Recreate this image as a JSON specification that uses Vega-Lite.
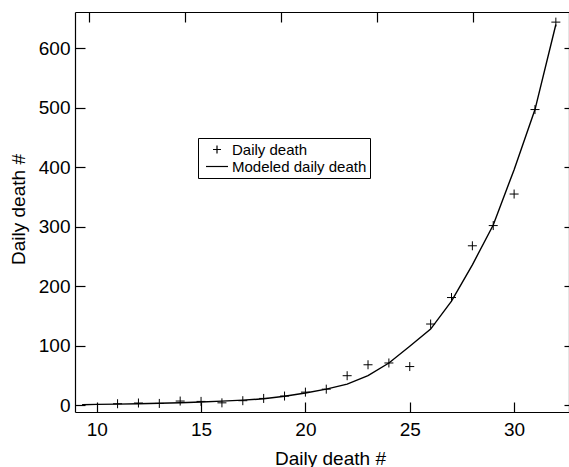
{
  "$schema": "https://vega.github.io/schema/vega-lite/v6.json",
  "autosize": "none",
  "width": 494,
  "height": 400,
  "padding": {"left": 75, "top": 12, "right": 0, "bottom": 55},
  "background": "white",
  "config": {
    "font": "Liberation Sans",
    "view": {"stroke": null},
    "axis": {
      "grid": false,
      "domainColor": "black",
      "domainWidth": 1.2,
      "tickColor": "black",
      "tickWidth": 1.2,
      "labelColor": "black",
      "titleColor": "black",
      "labelFontSize": 19,
      "titleFontSize": 19,
      "titleFontWeight": "normal",
      "labelFont": "Liberation Sans",
      "titleFont": "Liberation Sans"
    },
    "legend": {
      "labelFont": "Liberation Sans",
      "labelFontSize": 15,
      "labelColor": "black"
    }
  },
  "datasets": {
    "obs": [
      {"day": 11, "deaths": 2.5, "series": "Daily death"},
      {"day": 12, "deaths": 3.7, "series": "Daily death"},
      {"day": 13, "deaths": 3, "series": "Daily death"},
      {"day": 14, "deaths": 7, "series": "Daily death"},
      {"day": 15, "deaths": 6.4, "series": "Daily death"},
      {"day": 16, "deaths": 4, "series": "Daily death"},
      {"day": 17, "deaths": 7.6, "series": "Daily death"},
      {"day": 18, "deaths": 11.4, "series": "Daily death"},
      {"day": 19, "deaths": 15.4, "series": "Daily death"},
      {"day": 20, "deaths": 22, "series": "Daily death"},
      {"day": 21, "deaths": 27, "series": "Daily death"},
      {"day": 22, "deaths": 49.6, "series": "Daily death"},
      {"day": 23, "deaths": 68, "series": "Daily death"},
      {"day": 24, "deaths": 71, "series": "Daily death"},
      {"day": 25, "deaths": 65, "series": "Daily death"},
      {"day": 26, "deaths": 136.5, "series": "Daily death"},
      {"day": 27, "deaths": 181, "series": "Daily death"},
      {"day": 28, "deaths": 268, "series": "Daily death"},
      {"day": 29, "deaths": 302, "series": "Daily death"},
      {"day": 30, "deaths": 355, "series": "Daily death"},
      {"day": 31, "deaths": 497, "series": "Daily death"},
      {"day": 32, "deaths": 644, "series": "Daily death"}
    ],
    "model": [
      {"day": 9.3, "deaths": 0.8},
      {"day": 10, "deaths": 1.4},
      {"day": 11, "deaths": 1.9},
      {"day": 12, "deaths": 2.5},
      {"day": 13, "deaths": 3.2},
      {"day": 14, "deaths": 4.1},
      {"day": 15, "deaths": 5.3},
      {"day": 16, "deaths": 6.8},
      {"day": 17, "deaths": 8.5},
      {"day": 18, "deaths": 10.8},
      {"day": 19, "deaths": 15},
      {"day": 20, "deaths": 20.5},
      {"day": 21, "deaths": 27},
      {"day": 22, "deaths": 35.5},
      {"day": 23, "deaths": 49.6},
      {"day": 24, "deaths": 71},
      {"day": 25, "deaths": 99},
      {"day": 26, "deaths": 128},
      {"day": 27, "deaths": 175},
      {"day": 28, "deaths": 236},
      {"day": 29, "deaths": 303},
      {"day": 30, "deaths": 396},
      {"day": 31, "deaths": 497},
      {"day": 32, "deaths": 640}
    ]
  },
  "resolve": {"axis": {"x": "independent", "y": "independent"}},
  "layer": [
    {
      "data": {"name": "model"},
      "mark": {"type": "line", "color": "black", "strokeWidth": 1.4, "clip": true},
      "encoding": {
        "x": {
          "field": "day", "type": "quantitative",
          "scale": {"domain": [8.96, 32.63], "nice": false, "zero": false},
          "axis": {"orient": "bottom", "values": [10, 15, 20, 25, 30], "tickSize": -10, "labelPadding": 18, "title": "Daily death #", "titlePadding": 10, "titleX": 255}
        },
        "y": {
          "field": "deaths", "type": "quantitative",
          "scale": {"domain": [-11.4, 661], "nice": false, "zero": false},
          "axis": {"orient": "left", "values": [0, 100, 200, 300, 400, 500, 600], "tickSize": -10, "labelPadding": 15, "title": "Daily death #", "titlePadding": 10, "titleY": 197}
        }
      }
    },
    {
      "data": {"name": "obs"},
      "mark": {"type": "point", "filled": false, "strokeWidth": 1, "size": 289, "opacity": 1},
      "encoding": {
        "x": {
          "field": "day", "type": "quantitative",
          "axis": {"orient": "top", "values": [9.63, 14.23, 18.83, 23.43, 28.03], "labels": false, "tickSize": -10, "title": null}
        },
        "y": {
          "field": "deaths", "type": "quantitative",
          "axis": {"orient": "right", "values": [0, 100, 200, 300, 400, 500, 600], "labels": false, "tickSize": -5, "title": null}
        },
        "color": {"value": "black"},
        "shape": {
          "field": "series", "type": "nominal",
          "scale": {"domain": ["Daily death", "Modeled daily death"], "range": ["M-0.53,0H0.53M0,-0.53V0.53", "M-1.47,0H1.47"]},
          "legend": {
            "title": null,
            "orient": "none",
            "legendX": 123,
            "legendY": 126,
            "strokeColor": "black",
            "fillColor": "white",
            "padding": 3,
            "symbolSize": 225,
            "symbolOffset": 7.5,
            "symbolStrokeColor": "black",
            "symbolFillColor": "transparent",
            "symbolStrokeWidth": 1.2,
            "labelOffset": 6.5,
            "rowPadding": 0
          }
        }
      }
    }
  ]
}
